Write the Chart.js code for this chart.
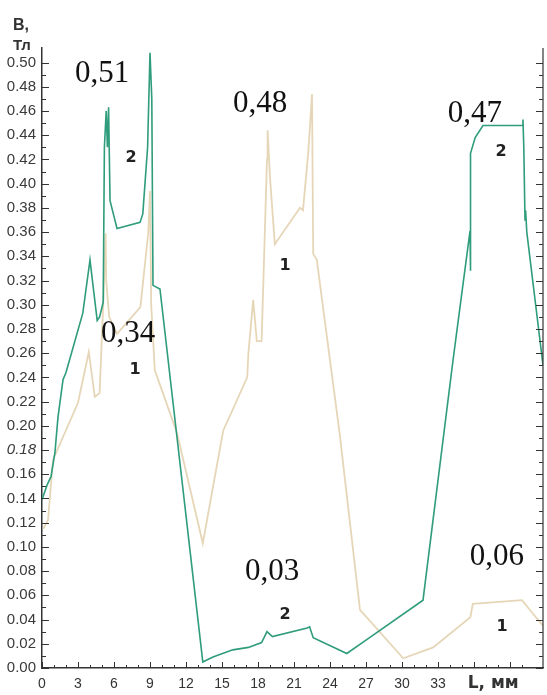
<!DOCTYPE html>
<html>
<head>
<meta charset="utf-8">
<script src="https://cdn.jsdelivr.net/npm/chart.js@4.4.1/dist/chart.umd.min.js"></script>
<style>
  html, body { margin: 0; padding: 0; background: #ffffff; }
  #wrap { width: 547px; height: 695px; position: relative; }
</style>
</head>
<body>
<div id="wrap"><canvas id="c" width="547" height="695"></canvas></div>
<script>
// ---- Data ----
// Curve 2 (green): L in mm, B in T
const curve2L = [0, 0.42, 0.75, 1.08, 1.33, 1.75, 2.0, 3.4, 4.0, 4.25, 4.6, 4.8, 5.1, 5.2, 5.35, 5.45, 5.55, 5.6, 5.67, 6.25, 8.17, 8.4, 8.8, 9.0, 9.15, 9.25, 9.83, 13.4, 14.25, 15.9, 17.2, 18.3, 18.75, 19.2, 22.1, 22.3, 22.6, 25.4, 27.0, 31.75, 34.25, 35.67, 35.7, 35.72, 36.1, 36.75, 40.0, 40.08, 40.15, 40.25, 40.3, 40.4, 41.75];
const curve2B = [0.139, 0.151, 0.158, 0.178, 0.207, 0.238, 0.244, 0.293, 0.337, 0.316, 0.287, 0.290, 0.302, 0.430, 0.460, 0.430, 0.463, 0.430, 0.386, 0.363, 0.368, 0.375, 0.430, 0.508, 0.470, 0.316, 0.313, 0.005, 0.009, 0.015, 0.017, 0.021, 0.030, 0.026, 0.033, 0.034, 0.025, 0.012, 0.023, 0.056, 0.254, 0.361, 0.328, 0.425, 0.438, 0.448, 0.448, 0.453, 0.430, 0.370, 0.378, 0.360, 0.250];
// Curve 1 (beige)
const curve1L = [0.1, 0.5, 0.92, 3.0, 3.9, 4.4, 4.8, 5.1, 5.3, 5.35, 5.6, 6.25, 8.2, 8.85, 9.0, 9.1, 9.4, 11.25, 13.4, 15.1, 17.1, 17.2, 17.6, 17.9, 18.3, 18.75, 18.8, 19.0, 19.4, 21.5, 21.75, 22.2, 22.5, 22.6, 22.9, 24.0, 24.8, 26.5, 30.1, 32.6, 35.7, 35.9, 40.0, 40.9, 41.75];
const curve1B = [0.115, 0.122, 0.172, 0.219, 0.261, 0.224, 0.227, 0.300, 0.359, 0.320, 0.290, 0.276, 0.298, 0.359, 0.394, 0.300, 0.246, 0.194, 0.103, 0.196, 0.240, 0.260, 0.304, 0.270, 0.270, 0.420, 0.444, 0.405, 0.350, 0.380, 0.378, 0.427, 0.474, 0.342, 0.337, 0.254, 0.194, 0.048, 0.008, 0.017, 0.042, 0.053, 0.056, 0.045, 0.035];

// Axis settings / tick labels
const xTickValues = [0, 3, 6, 9, 12, 15, 18, 21, 24, 27, 30, 33];
const xMax = 41.75;
const yMax = 0.512;
const yAxisTitle = ["B,", "Тл"];
const xAxisTitle = "L, мм";
const xAxisTitleAt = 37.6;

// Value annotations
const valueLabels = ["0,51", "0,34", "0,48", "0,47", "0,03", "0,06"];
const valueLabelL = [5.0, 7.17, 18.17, 36.08, 19.17, 37.9];
const valueLabelB = [0.491, 0.276, 0.466, 0.458, 0.079, 0.092];
// Curve number labels
const curveLabels = ["2", "1", "1", "2", "2", "1"];
const curveLabelL = [7.42, 7.75, 20.25, 38.25, 20.25, 38.33];
const curveLabelB = [0.421, 0.246, 0.332, 0.426, 0.044, 0.034];

const toPts = (xs, ys) => xs.map((x, i) => ({ x: x, y: ys[i] }));

const GREEN = '#2f9c7c';
const BEIGE = 'rgba(226,207,172,0.85)';

const decor = {
  id: 'decor',
  afterDraw(chart) {
    const ctx = chart.ctx;
    const xs = chart.scales.x, ys = chart.scales.y;
    const a = chart.chartArea;
    ctx.save();
    // right border
    ctx.strokeStyle = '#333';
    ctx.lineWidth = 1.2;
    ctx.beginPath();
    ctx.moveTo(a.right, a.top);
    ctx.lineTo(a.right, a.bottom);
    ctx.stroke();
    // inner tick marks on y (left and right)
    ctx.lineWidth = 1;
    ys.ticks.forEach(t => {
      const k = Math.round(t.value * 100);
      if (Math.abs(t.value * 100 - k) > 1e-6) return;
      const py = Math.round(ys.getPixelForValue(t.value)) + 0.5;
      const len = (k % 2 === 0) ? 7 : 4;
      ctx.beginPath();
      ctx.moveTo(a.left, py); ctx.lineTo(a.left + len, py);
      ctx.moveTo(a.right, py); ctx.lineTo(a.right - len, py);
      ctx.stroke();
    });
    // inner tick marks on x
    xs.ticks.forEach(t => {
      const v = t.value;
      if (Math.abs(v - Math.round(v)) > 1e-6) return;
      const px = Math.round(xs.getPixelForValue(v)) + 0.5;
      const len = (Math.round(v) % 3 === 0) ? 6 : 3;
      ctx.beginPath();
      ctx.moveTo(px, a.bottom); ctx.lineTo(px, a.bottom - len);
      ctx.stroke();
    });
    // axis titles
    ctx.fillStyle = '#333';
    ctx.textAlign = 'left';
    ctx.textBaseline = 'alphabetic';
    ctx.font = 'bold 16px "Liberation Sans", Arial, sans-serif';
    ctx.fillText(yAxisTitle[0], a.left - 29, a.top - 18);
    ctx.font = 'bold 15px "Liberation Sans", Arial, sans-serif';
    ctx.fillText(yAxisTitle[1], a.left - 29, a.top + 2);
    ctx.font = 'bold 17px "DejaVu Sans", sans-serif';
    ctx.textAlign = 'center';
    ctx.textBaseline = 'middle';
    ctx.fillText(xAxisTitle, xs.getPixelForValue(xAxisTitleAt), a.bottom + 16);
    // value annotations
    ctx.fillStyle = '#111';
    ctx.font = '31px "Liberation Serif", "Times New Roman", serif';
    valueLabels.forEach((s, i) => {
      ctx.fillText(s, xs.getPixelForValue(valueLabelL[i]), ys.getPixelForValue(valueLabelB[i]));
    });
    ctx.fillStyle = '#222';
    ctx.font = 'bold 16px "DejaVu Sans", sans-serif';
    curveLabels.forEach((s, i) => {
      ctx.fillText(s, xs.getPixelForValue(curveLabelL[i]), ys.getPixelForValue(curveLabelB[i]));
    });
    ctx.restore();
  }
};

new Chart(document.getElementById('c'), {
  type: 'line',
  data: {
    datasets: [
      { label: '2', data: toPts(curve2L, curve2B), borderColor: GREEN, borderWidth: 1.6, pointRadius: 0, tension: 0, fill: false },
      { label: '1', data: toPts(curve1L, curve1B), borderColor: BEIGE, borderWidth: 1.8, pointRadius: 0, tension: 0, fill: false }
    ]
  },
  options: {
    responsive: false,
    animation: false,
    devicePixelRatio: 1,
    layout: { padding: { top: 48, right: 4, left: 0, bottom: 0 } },
    plugins: { legend: { display: false }, tooltip: { enabled: false } },
    scales: {
      x: {
        type: 'linear',
        min: 0, max: xMax,
        grid: { display: false, drawTicks: false },
        border: { display: true, color: '#333', width: 1.5 },
        ticks: {
          stepSize: 1,
          autoSkip: false,
          maxRotation: 0,
          padding: 8,
          color: '#333',
          font: { family: '"Liberation Sans", Arial, sans-serif', size: 14 },
          callback: (v) => xTickValues.includes(v) ? String(v) : ''
        },
        afterFit(s) { s.height = 27; s.paddingLeft = 0; s.paddingRight = 0; }
      },
      y: {
        min: 0, max: yMax,
        grid: { display: false, drawTicks: false },
        border: { display: true, color: '#333', width: 1.5 },
        ticks: {
          stepSize: 0.01,
          autoSkip: false,
          padding: 6,
          color: '#3a3a3a',
          font: (c) => ({ family: '"Liberation Sans", Arial, sans-serif', size: 15,
                          style: (c.tick && Math.abs(c.tick.value - 0.18) < 1e-6) ? 'italic' : 'normal' }),
          callback: (v) => {
            const k = Math.round(v * 100);
            if (Math.abs(v * 100 - k) > 1e-6 || k % 2 !== 0) return '';
            return v.toFixed(2);
          }
        },
        afterFit(s) { s.width = 42; s.paddingTop = 0; s.paddingBottom = 0; }
      }
    }
  },
  plugins: [decor]
});
</script>
</body>
</html>
